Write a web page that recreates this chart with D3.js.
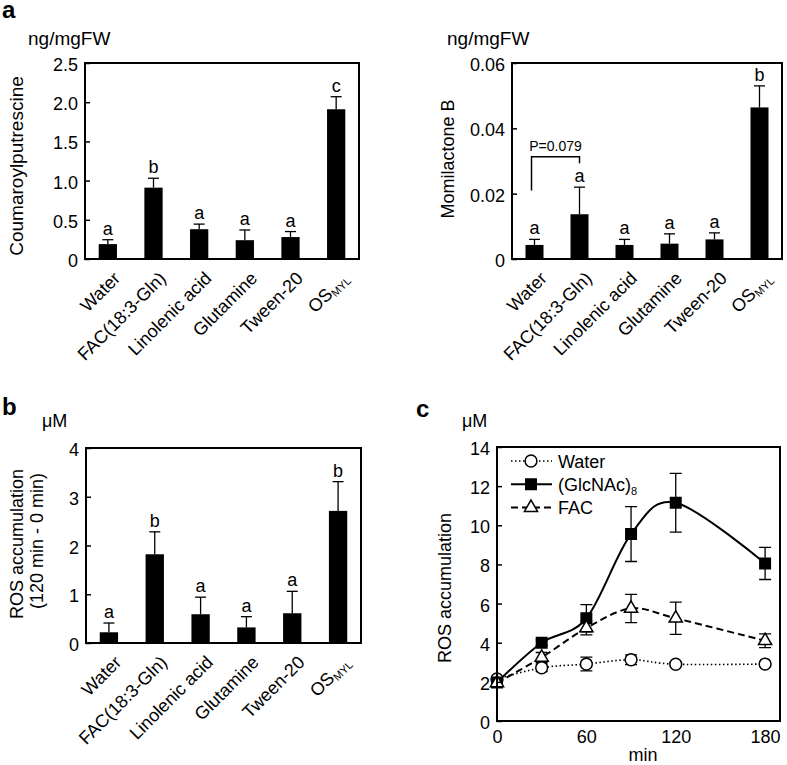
<!DOCTYPE html>
<html><head><meta charset="utf-8">
<script src="https://cdn.jsdelivr.net/npm/d3@7"></script>
<style>
body{margin:0;background:#fff}
svg{display:block}
text{font-family:"Liberation Sans",Arial,sans-serif;fill:#000}
</style>
</head><body>
<svg id="fig" width="787" height="765"></svg>
<script>
// ---------- data ----------
const categories = ["Water", "FAC(18:3-Gln)", "Linolenic acid", "Glutamine", "Tween-20", "OS"];
const coumaroylMean = [0.19, 0.91, 0.38, 0.24, 0.28, 1.91];
const coumaroylErr = [0.056, 0.12, 0.065, 0.13, 0.07, 0.16];
const coumaroylLetters = ["a", "b", "a", "a", "a", "c"];
const coumaroylTicks = [0, 0.5, 1, 1.5, 2, 2.5];
const coumaroylTickLabels = ["0", "0.5", "1.0", "1.5", "2.0", "2.5"];

const momilactoneMean = [0.0043, 0.0137, 0.0043, 0.0047, 0.006, 0.0464];
const momilactoneErr = [0.0017, 0.0083, 0.0017, 0.003, 0.002, 0.0066];
const momilactoneLetters = ["a", "a", "a", "a", "a", "b"];
const momilactoneTicks = [0, 0.02, 0.04, 0.06];
const momilactoneTickLabels = ["0", "0.02", "0.04", "0.06"];
const bracketLevels = [0.021, 0.0313, 0.0293]; // left leg bottom, top, right leg bottom
const bracketText = "P=0.079";

const rosDiffMean = [0.22, 1.82, 0.59, 0.32, 0.61, 2.71];
const rosDiffErr = [0.19, 0.46, 0.35, 0.22, 0.45, 0.6];
const rosDiffLetters = ["a", "b", "a", "a", "a", "b"];
const rosDiffTicks = [0, 1, 2, 3, 4];
const rosDiffTickLabels = ["0", "1", "2", "3", "4"];

const timePoints = [0, 30, 60, 90, 120, 180];
const seriesNames = ["Water", "(GlcNAc)", "FAC"];
const waterMean = [2.15, 2.72, 2.91, 3.13, 2.9, 2.91];
const waterErr = [0, 0.2, 0.35, 0.25, 0.1, 0.1];
const glcnacMean = [1.97, 4.0, 5.25, 9.55, 11.15, 8.05];
const glcnacErr = [0.1, 0.15, 0.7, 1.4, 1.5, 0.82];
const facMean = [1.95, 3.25, 4.75, 5.75, 5.25, 4.1];
const facErr = [0.1, 0.25, 0.35, 0.72, 0.82, 0.35];
const rosTicks = [0, 2, 4, 6, 8, 10, 12, 14];
const timeTicks = [0, 60, 120, 180];

// ---------- drawing ----------
const svg = d3.select("#fig");
const FS = 18;

function boxAxis(g, y, x0, x1, ticks, labels) {
  const ax = d3.axisLeft(y).tickValues(ticks).tickFormat((d, i) => labels[i])
    .tickSizeInner(-5).tickSizeOuter(0).tickPadding(7);
  const a = g.append("g").attr("transform", `translate(${x0},0)`).call(ax);
  a.select(".domain").remove();
  a.selectAll(".tick line").attr("stroke", "#000").attr("stroke-width", 1.5);
  a.selectAll(".tick text").attr("font-size", FS).attr("font-family", "Liberation Sans, Arial, sans-serif").attr("dy", "0.42em");
}

function catLabel(g, d, px, py) {
  const t = g.append("text").attr("transform", `translate(${px},${py}) rotate(-45)`)
    .attr("text-anchor", "end").attr("font-size", FS).attr("dy", "0.35em");
  if (d === "OS") {
    t.append("tspan").text("OS");
    t.append("tspan").text("MYL").attr("font-size", 11).attr("dy", 3);
  } else t.text(d);
}

function barPanel(cfg) {
  const g = svg.append("g");
  const x = d3.scaleBand().domain(categories).range([cfg.x0, cfg.x1]).paddingInner(0.6).paddingOuter(0.3);
  const y = d3.scaleLinear().domain([0, cfg.max]).range([cfg.y1, cfg.y0]);
  const bw = x.bandwidth();
  const cx = d => x(d) + bw / 2;
  // error bars
  categories.forEach((d, i) => {
    const top = y(cfg.mean[i] + cfg.err[i]);
    g.append("line").attr("x1", cx(d)).attr("x2", cx(d)).attr("y1", y(cfg.mean[i])).attr("y2", top).attr("stroke", "#000").attr("stroke-width", 1.3);
    g.append("line").attr("x1", cx(d) - 5.5).attr("x2", cx(d) + 5.5).attr("y1", top).attr("y2", top).attr("stroke", "#000").attr("stroke-width", 1.3);
    g.append("text").attr("x", cx(d)).attr("y", top - 5).attr("text-anchor", "middle").attr("font-size", FS).text(cfg.letters[i]);
  });
  g.selectAll("rect.bar").data(categories).join("rect").attr("class", "bar")
    .attr("x", d => x(d)).attr("width", bw)
    .attr("y", (d, i) => y(cfg.mean[i])).attr("height", (d, i) => y(0) - y(cfg.mean[i]))
    .attr("fill", "#000");
  boxAxis(g, y, cfg.x0, cfg.x1, cfg.ticks, cfg.tickLabels);
  g.append("rect").attr("x", cfg.x0).attr("y", cfg.y0).attr("width", cfg.x1 - cfg.x0).attr("height", cfg.y1 - cfg.y0)
    .attr("fill", "none").attr("stroke", "#000").attr("stroke-width", 2);
  categories.forEach(d => catLabel(g, d, cx(d) + 9, cfg.y1 + 16));
  return {g, x, y, cx};
}

// panel a left
const pA1 = barPanel({x0: 85, x1: 359, y0: 63, y1: 259, max: 2.5, mean: coumaroylMean, err: coumaroylErr,
  letters: coumaroylLetters, ticks: coumaroylTicks, tickLabels: coumaroylTickLabels});
svg.append("text").attr("x", 2).attr("y", 18).attr("font-size", 24).attr("font-weight", "bold").text("a");
svg.append("text").attr("x", 28).attr("y", 45).attr("font-size", FS + 1).text("ng/mgFW");
svg.append("text").attr("transform", "translate(23,166) rotate(-90)").attr("text-anchor", "middle").attr("font-size", FS + 1).text("Coumaroylputrescine");

// panel a right
const pA2 = barPanel({x0: 512, x1: 782, y0: 63, y1: 259, max: 0.06, mean: momilactoneMean, err: momilactoneErr,
  letters: momilactoneLetters, ticks: momilactoneTicks, tickLabels: momilactoneTickLabels});
svg.append("text").attr("x", 447).attr("y", 45).attr("font-size", FS + 1).text("ng/mgFW");
svg.append("text").attr("transform", "translate(454,159) rotate(-90)").attr("text-anchor", "middle").attr("font-size", FS).text("Momilactone B");
{
  const bx0 = pA2.cx(categories[0]) - 3, bx1 = pA2.cx(categories[1]);
  const y = pA2.y;
  pA2.g.append("path").attr("d", `M${bx0},${y(bracketLevels[0])}V${y(bracketLevels[1])}H${bx1}V${y(bracketLevels[2])}`)
    .attr("fill", "none").attr("stroke", "#000").attr("stroke-width", 1.5);
  pA2.g.append("text").attr("x", (bx0 + bx1) / 2).attr("y", y(bracketLevels[1]) - 6).attr("text-anchor", "middle")
    .attr("font-size", 14).text(bracketText);
}

// panel b
barPanel({x0: 86, x1: 361, y0: 448, y1: 643, max: 4, mean: rosDiffMean, err: rosDiffErr,
  letters: rosDiffLetters, ticks: rosDiffTicks, tickLabels: rosDiffTickLabels});
svg.append("text").attr("x", 2).attr("y", 415).attr("font-size", 24).attr("font-weight", "bold").text("b");
svg.append("text").attr("x", 42).attr("y", 427).attr("font-size", FS).text("μM");
svg.append("text").attr("transform", "translate(23,544) rotate(-90)").attr("text-anchor", "middle").attr("font-size", FS).text("ROS accumulation");
svg.append("text").attr("transform", "translate(43,541) rotate(-90)").attr("text-anchor", "middle").attr("font-size", FS).text("(120 min - 0 min)");

// panel c
{
  const g = svg.append("g");
  const x0 = 497, x1 = 780, y0 = 447, y1 = 721;
  const x = d3.scaleLinear().domain([0, 190]).range([x0, x1]);
  const y = d3.scaleLinear().domain([0, 14]).range([y1, y0]);
  const series = [
    {name: seriesNames[0], mean: waterMean, err: waterErr, dash: "1.5,2.5", width: 1.6, marker: "circle"},
    {name: seriesNames[1], mean: glcnacMean, err: glcnacErr, dash: null, width: 2, marker: "square"},
    {name: seriesNames[2], mean: facMean, err: facErr, dash: "7,4", width: 2, marker: "triangle"}
  ];
  const line = d3.line().x((d, i) => x(timePoints[i])).y(d => y(d)).curve(d3.curveCardinal.tension(0));
  series.forEach(s => {
    g.append("path").attr("d", line(s.mean)).attr("fill", "none").attr("stroke", "#000")
      .attr("stroke-width", s.width).attr("stroke-dasharray", s.dash);
  });
  series.forEach(s => {
    timePoints.forEach((t, i) => {
      if (!s.err[i] || i === 0) return;
      const yt = y(s.mean[i] + s.err[i]), yb = y(s.mean[i] - s.err[i]), xc = x(t);
      g.append("path").attr("d", `M${xc},${yt}V${yb}M${xc - 6},${yt}H${xc + 6}M${xc - 6},${yb}H${xc + 6}`)
        .attr("fill", "none").attr("stroke", "#000").attr("stroke-width", 1.3);
    });
  });
  const sym = {circle: d3.symbol(d3.symbolCircle, 110), square: d3.symbol(d3.symbolSquare, 110), triangle: d3.symbol(d3.symbolTriangle, 75)};
  function marker(gg, type, px, py) {
    gg.append("path").attr("d", sym[type]()).attr("transform", `translate(${px},${py})`)
      .attr("fill", type === "square" ? "#000" : "#fff").attr("stroke", "#000").attr("stroke-width", 1.5);
  }
  series.forEach(s => timePoints.forEach((t, i) => marker(g, s.marker, x(t), y(s.mean[i]))));
  boxAxis(g, y, x0, x1, rosTicks, rosTicks.map(String));
  const xa = d3.axisBottom(x).tickValues(timeTicks).tickSize(0).tickPadding(9);
  const xg = g.append("g").attr("transform", `translate(0,${y1})`).call(xa);
  xg.select(".domain").remove();
  xg.selectAll(".tick text").attr("font-size", FS).attr("font-family", "Liberation Sans, Arial, sans-serif");
  g.append("rect").attr("x", x0).attr("y", y0).attr("width", x1 - x0).attr("height", y1 - y0)
    .attr("fill", "none").attr("stroke", "#000").attr("stroke-width", 2);
  series.forEach((s, k) => {
    const ly = 461 + k * 23.3;
    g.append("line").attr("x1", 511).attr("x2", 552).attr("y1", ly).attr("y2", ly).attr("stroke", "#000")
      .attr("stroke-width", s.width).attr("stroke-dasharray", s.dash);
    marker(g, s.marker, 531, ly);
    const t = g.append("text").attr("x", 558).attr("y", ly + 6.5).attr("font-size", FS);
    t.append("tspan").text(s.name);
    if (k === 1) t.append("tspan").text("8").attr("font-size", 11).attr("dy", 4);
  });
  svg.append("text").attr("x", 416).attr("y", 417).attr("font-size", 24).attr("font-weight", "bold").text("c");
  svg.append("text").attr("x", 462).attr("y", 427).attr("font-size", FS).text("μM");
  svg.append("text").attr("transform", "translate(451,588) rotate(-90)").attr("text-anchor", "middle").attr("font-size", FS).text("ROS accumulation");
  svg.append("text").attr("x", 643).attr("y", 761).attr("text-anchor", "middle").attr("font-size", FS).text("min");
}
</script>
</body></html>
